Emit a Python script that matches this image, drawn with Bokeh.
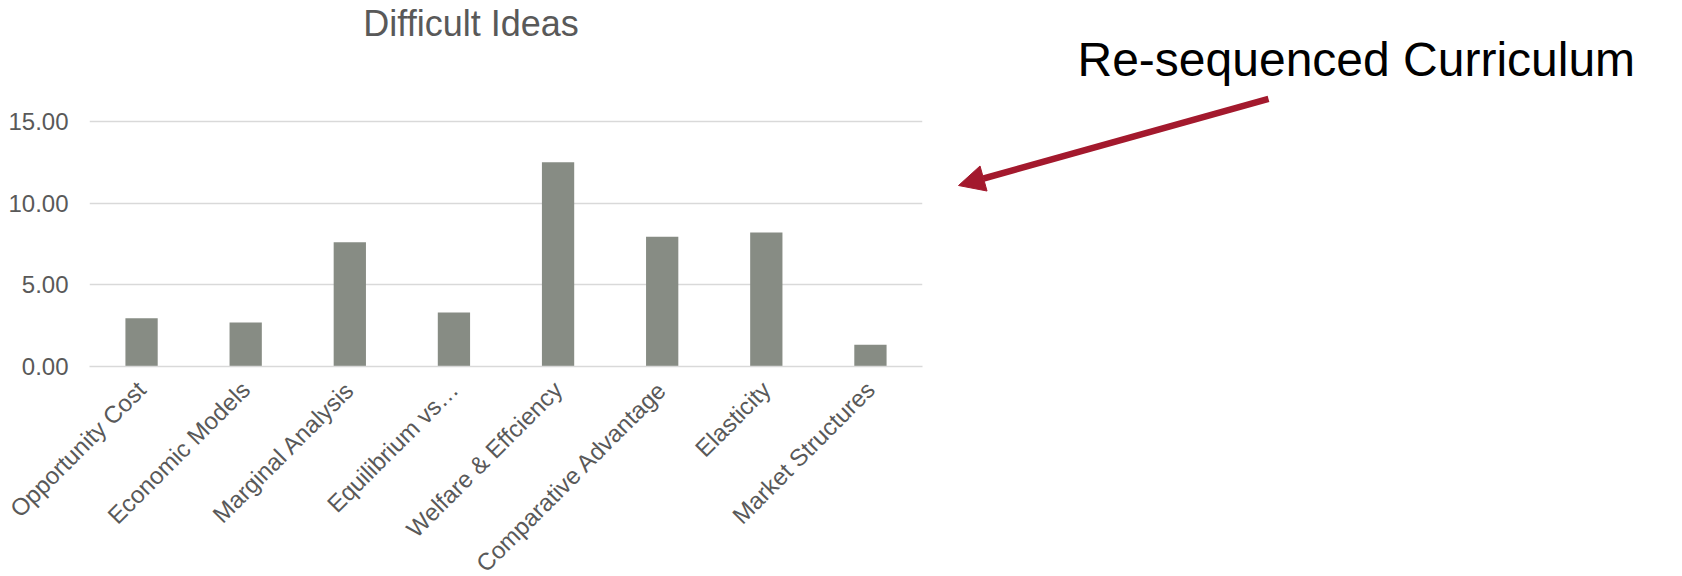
import math

from bokeh.embed import file_html
from bokeh.layouts import row
from bokeh.models import (Arrow, ColumnDataSource, FixedTicker, Label,
                          NormalHead, NumeralTickFormatter, Range1d)
from bokeh.plotting import figure
from bokeh.resources import INLINE

# Topics and the share of respondents finding each one difficult
topics = [
    "Opportunity Cost",
    "Economic Models",
    "Marginal Analysis",
    "Equilibrium vs…",
    "Welfare & Effciency",
    "Comparative Advantage",
    "Elasticity",
    "Market Structures",
]
difficulty = [2.96, 2.70, 7.60, 3.31, 12.50, 7.95, 8.21, 1.33]
y_ticks = [0, 5, 10, 15]

chart_title = "Difficult Ideas"
callout_text = "Re-sequenced Curriculum"

FONT = "Liberation Sans"
TEXT_GREY = "#595959"
BAR_COLOR = "#878C84"
GRID_COLOR = "#D9D9D9"
ARROW_COLOR = "#A3192D"

# Vertical geometry (pixels): the value axis spans 245 px from 0 to 15,
# and the frame reaches up to the top of the canvas to host the title.
AXIS_PX = 245
FRAME_H = 366
BOTTOM_PX = 210
y_max = max(y_ticks)
y_top = y_max * FRAME_H / AXIS_PX

source = ColumnDataSource(dict(topic=topics, value=difficulty))

# ---- bar chart -------------------------------------------------------------
p = figure(
    x_range=topics,
    y_range=Range1d(0, y_top),
    frame_width=833,
    frame_height=FRAME_H,
    min_border_left=89,
    min_border_right=18,
    min_border_top=0,
    min_border_bottom=BOTTOM_PX,
    output_backend="svg",
    toolbar_location=None,
)
p.vbar(x="topic", top="value", width=0.31, source=source,
       fill_color=BAR_COLOR, line_color=None)

p.outline_line_color = None
p.background_fill_color = "white"
p.border_fill_color = "white"

p.xgrid.grid_line_color = None
p.ygrid.grid_line_color = GRID_COLOR
p.ygrid.grid_line_width = 1.5

p.yaxis.ticker = FixedTicker(ticks=y_ticks)
p.yaxis.formatter = NumeralTickFormatter(format="0.00")
p.yaxis.axis_line_color = None
p.yaxis.major_tick_line_color = None
p.yaxis.minor_tick_line_color = None
p.yaxis.major_tick_out = 0
p.yaxis.major_tick_in = 0
p.yaxis.major_label_standoff = 21
p.yaxis.major_label_text_font = FONT
p.yaxis.major_label_text_font_size = "24px"
p.yaxis.major_label_text_color = TEXT_GREY

p.xaxis.axis_line_color = GRID_COLOR
p.xaxis.axis_line_width = 1.5
p.xaxis.major_tick_line_color = None
p.xaxis.minor_tick_line_color = None
p.xaxis.major_tick_out = 0
p.xaxis.major_tick_in = 0
p.xaxis.major_label_standoff = 19
p.xaxis.major_label_orientation = math.pi / 4
p.xaxis.major_label_text_font = FONT
p.xaxis.major_label_text_font_size = "24px"
p.xaxis.major_label_text_color = TEXT_GREY

# chart title, centred over the chart area
p.add_layout(Label(
    x=381.5, y=FRAME_H - 22.7, x_units="screen", y_units="screen",
    text=chart_title, text_align="center", text_baseline="alphabetic",
    text_font=FONT, text_font_size="36px", text_color=TEXT_GREY,
))

# ---- callout panel with arrow pointing back at the chart --------------------
side = figure(
    x_range=Range1d(0, 742),
    y_range=Range1d(FRAME_H, 0),
    frame_width=742,
    frame_height=FRAME_H,
    min_border=0,
    min_border_bottom=BOTTOM_PX,
    output_backend="svg",
    toolbar_location=None,
)
side.axis.visible = False
side.grid.visible = False
side.outline_line_color = None
side.background_fill_color = "white"
side.border_fill_color = "white"

side.add_layout(Label(
    x=137, y=59.1, text=callout_text,
    text_align="left", text_baseline="alphabetic",
    text_font=FONT, text_font_size="48px", text_color="black",
))
side.add_layout(Arrow(
    x_start=328, y_start=98.3, x_end=18, y_end=185,
    line_color=ARROW_COLOR, line_width=6.5,
    end=NormalHead(size=26, fill_color=ARROW_COLOR, line_color=ARROW_COLOR),
))

layout = row(p, side, spacing=0)

with open("out.html", "w") as f:
    f.write(file_html(layout, INLINE))
